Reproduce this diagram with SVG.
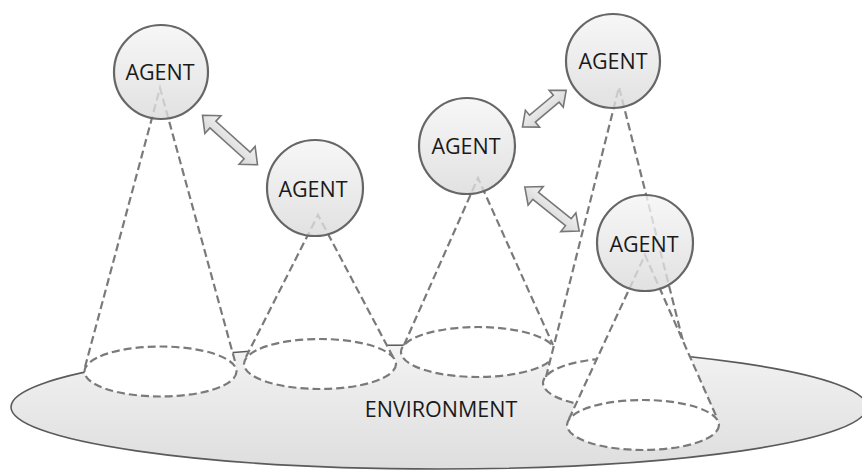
<svg xmlns="http://www.w3.org/2000/svg" width="862" height="472" viewBox="0 0 862 472">
<defs>
<linearGradient id="gEnv" x1="0" y1="0" x2="0" y2="1"><stop offset="0" stop-color="#f3f3f3"/><stop offset="1" stop-color="#dedede"/></linearGradient>
<linearGradient id="gAg" x1="0" y1="0" x2="0" y2="1"><stop offset="0" stop-color="#f5f5f5"/><stop offset="1" stop-color="#dadada"/></linearGradient>
<linearGradient id="gAr" x1="0" y1="0" x2="0" y2="1"><stop offset="0" stop-color="#f2f2f2"/><stop offset="1" stop-color="#d6d6d6"/></linearGradient>
</defs>
<style>
.env{fill:url(#gEnv);stroke:#5a5a5a;stroke-width:1.6}
.cf{fill:#ffffff;stroke:none}
.dash{fill:none;stroke:#7a7a7a;stroke-width:2.2;stroke-dasharray:8 4}
.de{fill:#ffffff;stroke:#7a7a7a;stroke-width:2.2;stroke-dasharray:8 4}
.ag{fill:url(#gAg);fill-opacity:0.8;stroke:#666666;stroke-width:2.2}
.t{font-family:"Open Sans","Liberation Sans",sans-serif;font-size:21.5px;fill:#1a1a1a;text-anchor:middle}
.ar{fill:url(#gAr);stroke:#777;stroke-width:1.6;stroke-linejoin:miter}
</style>
<g id="environment">
<ellipse class="env" cx="439" cy="407" rx="428" ry="62"/>
<text class="t" x="441" y="417">ENVIRONMENT</text>
</g>
<g id="cones">
<g id="cone1">
<polygon class="cf" points="160,88 85,367 160,397 236,365"/>
<ellipse class="de" cx="160.5" cy="371.5" rx="76" ry="25"/>
<polyline class="dash" points="85,367 160,88 236,365"/>
</g>
<g id="cone2">
<polygon class="cf" points="318,215 246,357 320,389 393,357"/>
<ellipse class="de" cx="320" cy="364" rx="76" ry="25"/>
<polyline class="dash" points="246,357 318,215 393,357"/>
</g>
<g id="cone3">
<polygon class="cf" points="478,178 404,345 478,377 553,345"/>
<ellipse class="de" cx="478" cy="352" rx="77" ry="25"/>
<polyline class="dash" points="404,345 478,178 553,345"/>
</g>
<g id="cone4">
<polygon class="cf" points="619,87 546,377 620,408 691,373"/>
<ellipse class="de" cx="620" cy="383" rx="77" ry="25"/>
<polyline class="dash" points="546,377 619,87 691,373"/>
</g>
<g id="cone5">
<polygon class="cf" points="645,255 569,419 643,450 717,418"/>
<ellipse class="de" cx="643" cy="425" rx="76" ry="25"/>
<polyline class="dash" points="569,419 645,255 717,418"/>
</g>
</g>
<g id="agent1"><circle class="ag" cx="161" cy="72" r="47"/><text class="t" x="160" y="80">AGENT</text></g>
<g id="agent2"><circle class="ag" cx="315" cy="188" r="48"/><text class="t" x="313" y="197">AGENT</text></g>
<g id="agent3"><circle class="ag" cx="467" cy="146" r="48"/><text class="t" x="466" y="154">AGENT</text></g>
<g id="agent4"><circle class="ag" cx="613" cy="61" r="47"/><text class="t" x="613" y="69">AGENT</text></g>
<g id="agent5"><circle class="ag" cx="645" cy="243" r="48"/><text class="t" x="644" y="252">AGENT</text></g>
<g id="connectors">
<polygon class="ar" transform="translate(202.5,115.2) rotate(42)" points="0,0 14,-12 14,-4.5 60,-4.5 60,-12 74,0 60,12 60,4.5 14,4.5 14,12"/>
<polygon class="ar" transform="translate(522.5,127) rotate(-40)" points="0,0 13,-11 13,-4.5 44,-4.5 44,-11 57,0 44,11 44,4.5 13,4.5 13,11"/>
<polygon class="ar" transform="translate(524.8,187) rotate(39)" points="0,0 14,-12 14,-4.5 56,-4.5 56,-12 70,0 56,12 56,4.5 14,4.5 14,12"/>
</g>
</svg>
